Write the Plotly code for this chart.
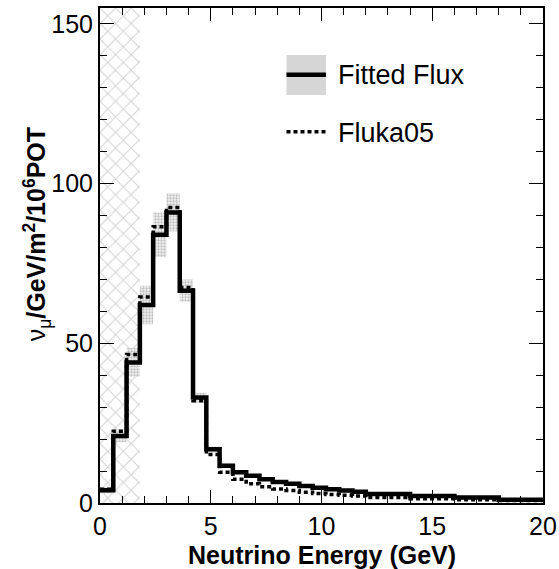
import numpy as np
import plotly.graph_objects as go

# Energy bin edges (GeV): 0.6 GeV bins up to 12 GeV, then 2 GeV bins
bin_edges = [round(0.6 * i, 1) for i in range(21)] + [14.0, 16.0, 18.0, 20.0]

# Fitted nu_mu flux per bin (nu_mu / GeV / m^2 / 1e6 POT)
fitted_flux = [4.0, 21.0, 44.0, 62.0, 84.0, 91.0, 66.5, 33.0, 16.8, 11.7,
               9.6, 8.5, 7.4, 6.6, 6.0, 5.3, 4.8, 4.3, 3.9, 3.5,
               2.8, 2.2, 1.7, 1.0]

# Uncertainty on the fitted flux (half width of the band)
fitted_err = [1.0, 2.0, 4.5, 6.0, 7.0, 6.0, 3.5, 1.5, 0.9, 0.7,
              0.6, 0.5, 0.5, 0.4, 0.4, 0.4, 0.3, 0.3, 0.3, 0.3,
              0.2, 0.2, 0.2, 0.1]

# Fluka05 prediction per bin
fluka05 = [4.3, 22.5, 46.5, 64.5, 86.5, 92.5, 67.5, 32.0, 15.2, 9.6,
           7.4, 6.0, 5.1, 4.4, 3.9, 3.4, 3.0, 2.7, 2.4, 2.2,
           1.7, 1.3, 1.0, 0.8]

# Low-energy region excluded from the fit
excluded_range = [0.0, 1.8]

x_range = [0, 20]
y_range = [0, 155]
x_major = [0, 5, 10, 15, 20]
y_major = [0, 50, 100, 150]

FONT = "Liberation Sans, Helvetica, Arial, sans-serif"


def step_y(vals):
    # repeat the last value so the final bin is closed by 'hv' steps
    return list(vals) + [vals[-1]]


lower = [v - e for v, e in zip(fitted_flux, fitted_err)]
upper = [v + e for v, e in zip(fitted_flux, fitted_err)]

fig = go.Figure()

# Cross-hatched excluded region
fig.add_trace(go.Scatter(
    x=[excluded_range[0], excluded_range[1], excluded_range[1], excluded_range[0], excluded_range[0]],
    y=[y_range[0], y_range[0], y_range[1], y_range[1], y_range[0]],
    mode="lines", line=dict(width=0), fill="toself",
    fillcolor="rgba(0,0,0,0)",
    fillpattern=dict(shape="x", fgcolor="#a8a8a8", bgcolor="white", size=11, solidity=0.18),
    hoverinfo="skip", showlegend=False,
))

# Uncertainty band around the fitted flux
fig.add_trace(go.Scatter(
    x=bin_edges, y=step_y(lower), mode="lines", line=dict(width=0, shape="hv"),
    hoverinfo="skip", showlegend=False,
))
fig.add_trace(go.Scatter(
    x=bin_edges, y=step_y(upper), mode="lines", line=dict(width=0, shape="hv"),
    fill="tonexty", fillcolor="rgba(0,0,0,0)",
    fillpattern=dict(shape=".", fgcolor="#8a8a8a", bgcolor="#f2f2f2", size=3, solidity=0.45),
    hoverinfo="skip", showlegend=False,
))

# Fitted flux
fig.add_trace(go.Scatter(
    x=bin_edges, y=step_y(fitted_flux), mode="lines",
    line=dict(color="black", width=4.5, shape="hv"),
    name="Fitted Flux", showlegend=False,
))

# Fluka05 prediction
fig.add_trace(go.Scatter(
    x=bin_edges, y=step_y(fluka05), mode="lines",
    line=dict(color="black", width=3.5, shape="hv", dash="4px,3px"),
    name="Fluka05", showlegend=False,
))

axis_common = dict(
    showgrid=False, zeroline=False, showline=True, linecolor="black", linewidth=2,
    mirror="ticks", ticks="inside", tickcolor="black", tickwidth=1.2, automargin=False,
    tickfont=dict(family=FONT, size=25, color="black"),
)

fig.update_xaxes(
    range=x_range, tickvals=x_major, ticklen=13,
    minor=dict(dtick=1, ticks="inside", ticklen=7, tickcolor="black", tickwidth=1.2),
    **axis_common,
)
fig.update_yaxes(
    range=y_range, tickvals=y_major, ticklen=14,
    minor=dict(dtick=10, ticks="inside", ticklen=7, tickcolor="black", tickwidth=1.2),
    **axis_common,
)

# Legend drawn by hand: band + line for the fit, dotted line for Fluka05
legend_shapes = [
    dict(type="rect", xref="paper", yref="paper", x0=0.421, x1=0.510, y0=0.824, y1=0.905,
         line=dict(width=0), fillcolor="#d6d6d6", layer="above"),
    dict(type="line", xref="paper", yref="paper", x0=0.421, x1=0.510, y0=0.865, y1=0.865,
         line=dict(color="black", width=4.5), layer="above"),
    dict(type="line", xref="paper", yref="paper", x0=0.421, x1=0.510, y0=0.750, y1=0.750,
         line=dict(color="black", width=3.5, dash="4px,3px"), layer="above"),
]

annotations = [
    dict(text="Fitted Flux", xref="paper", yref="paper", x=0.532, y=0.864,
         xanchor="left", yanchor="middle", showarrow=False,
         font=dict(family=FONT, size=27, color="black")),
    dict(text="Fluka05", xref="paper", yref="paper", x=0.532, y=0.748,
         xanchor="left", yanchor="middle", showarrow=False,
         font=dict(family=FONT, size=27, color="black")),
    dict(text="<b>Neutrino Energy (GeV)</b>", xref="paper", yref="paper", x=0.5, y=-0.1045,
         xanchor="center", yanchor="middle", showarrow=False,
         font=dict(family=FONT, size=25, color="black")),
    dict(text="ν<sub>μ</sub><b>/GeV/m<sup>2</sup>/10<sup>6</sup>POT</b>", xref="paper", yref="paper",
         x=-0.142, y=0.543, xanchor="center", yanchor="middle", textangle=-90, showarrow=False,
         font=dict(family=FONT, size=25, color="black")),
]

fig.update_layout(
    width=559, height=569,
    margin=dict(l=100, r=16, t=8, b=66),
    paper_bgcolor="white", plot_bgcolor="white",
    shapes=legend_shapes, annotations=annotations,
    showlegend=False,
)

fig.write_html("out.html")
